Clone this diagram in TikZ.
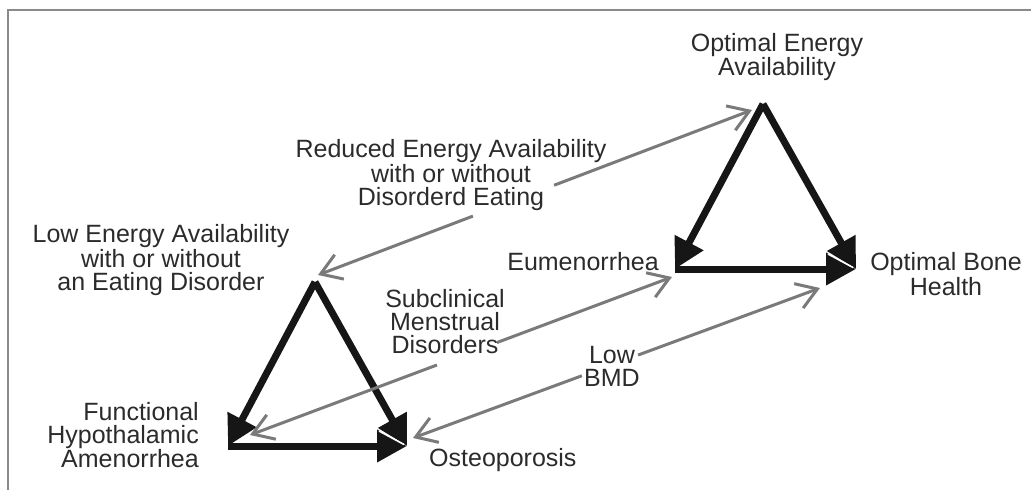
\documentclass[tikz,border=0pt]{standalone}
\usepackage{fontspec}
\setmainfont{Liberation Sans}
\usetikzlibrary{arrows.meta,calc}
\definecolor{txt}{HTML}{2B2B2B}
\definecolor{blk}{HTML}{161616}
\definecolor{gry}{HTML}{7A7A7A}
\definecolor{frm}{HTML}{8A8A8A}
\tikzset{
  lbl/.style={inner sep=0pt, text=txt, font=\fontsize{25}{23}\selectfont},
  bigarrow/.style={draw=blk, line width=7pt, -{Triangle[length=30pt,width=31pt]}},
  garrow/.style={draw=gry, line width=3pt},
  gtip/.tip={Straight Barb[length=20pt,width=26pt]},
  slit/.style={draw=white, line width=1.6pt}
}
\begin{document}
\begin{tikzpicture}[x=1pt,y=-1pt]
\useasboundingbox (0,0) rectangle (1031,490);
% frame
\draw[frm, line width=2pt] (8,490) -- (8,10) -- (1031,10);

% triangle corners
\coordinate (LA) at (315,282);
\coordinate (LB) at (228,446);
\coordinate (LC) at (407,446);
\coordinate (RA) at (763,104);
\coordinate (RB) at (675,269);
\coordinate (RC) at (856,269);

% labels
\node[lbl, align=center] (oea) at (777,57) {Optimal Energy\\Availability};
\node[lbl, align=center] (rea) at (451,175) {Reduced Energy Availability\\with or without\\Disorderd Eating};
\node[lbl, align=center] (lea) at (161,260) {Low Energy Availability\\with or without\\an Eating Disorder};
\node[lbl, anchor=east] (eum) at (659,262) {Eumenorrhea};
\node[lbl, align=center] (obh) at (946,274) {Optimal Bone\\Health};
\node[lbl, align=right, anchor=east] (fha) at (199,435) {Functional\\Hypothalamic\\Amenorrhea};
\node[lbl, anchor=west] (ost) at (429,460) {Osteoporosis};
\node[lbl, align=center] (smd) at (445,322) {Subclinical\\Menstrual\\Disorders};
\node[lbl, align=center] (bmd) at (612,366) {Low\\BMD};

% black triangles
\draw[bigarrow] (LA) -- (LB);
\draw[bigarrow] (LA) -- (LC);
\draw[bigarrow] (LB) -- (LC);
\draw[slit] ($(LC)+(-28,-15)$) -- ($(LC)+(-3,-1.5)$);
\draw[bigarrow] (RA) -- (RB);
\draw[bigarrow] (RA) -- (RC);
\draw[bigarrow] (RB) -- (RC);
\draw[slit] ($(RC)+(-28,-15)$) -- ($(RC)+(-3,-1.5)$);

% gray double arrows (broken at labels)
\coordinate (r1) at (318,275);
\coordinate (r2) at (752,110);
\draw[garrow, {gtip}-] (r1) -- ($(r1)!0.357!(r2)$);
\draw[garrow, -{gtip}] ($(r1)!0.544!(r2)$) -- (r2);

\coordinate (s1) at (250,435);
\coordinate (s2) at (672,277);
\draw[garrow, {gtip}-] (s1) -- ($(s1)!0.443!(s2)$);
\draw[garrow, -{gtip}] ($(s1)!0.585!(s2)$) -- (s2);

\coordinate (b1) at (413,438);
\coordinate (b2) at (820,288);
\draw[garrow, {gtip}-] (b1) -- ($(b1)!0.415!(b2)$);
\draw[garrow, -{gtip}] ($(b1)!0.553!(b2)$) -- (b2);
\end{tikzpicture}
\end{document}
